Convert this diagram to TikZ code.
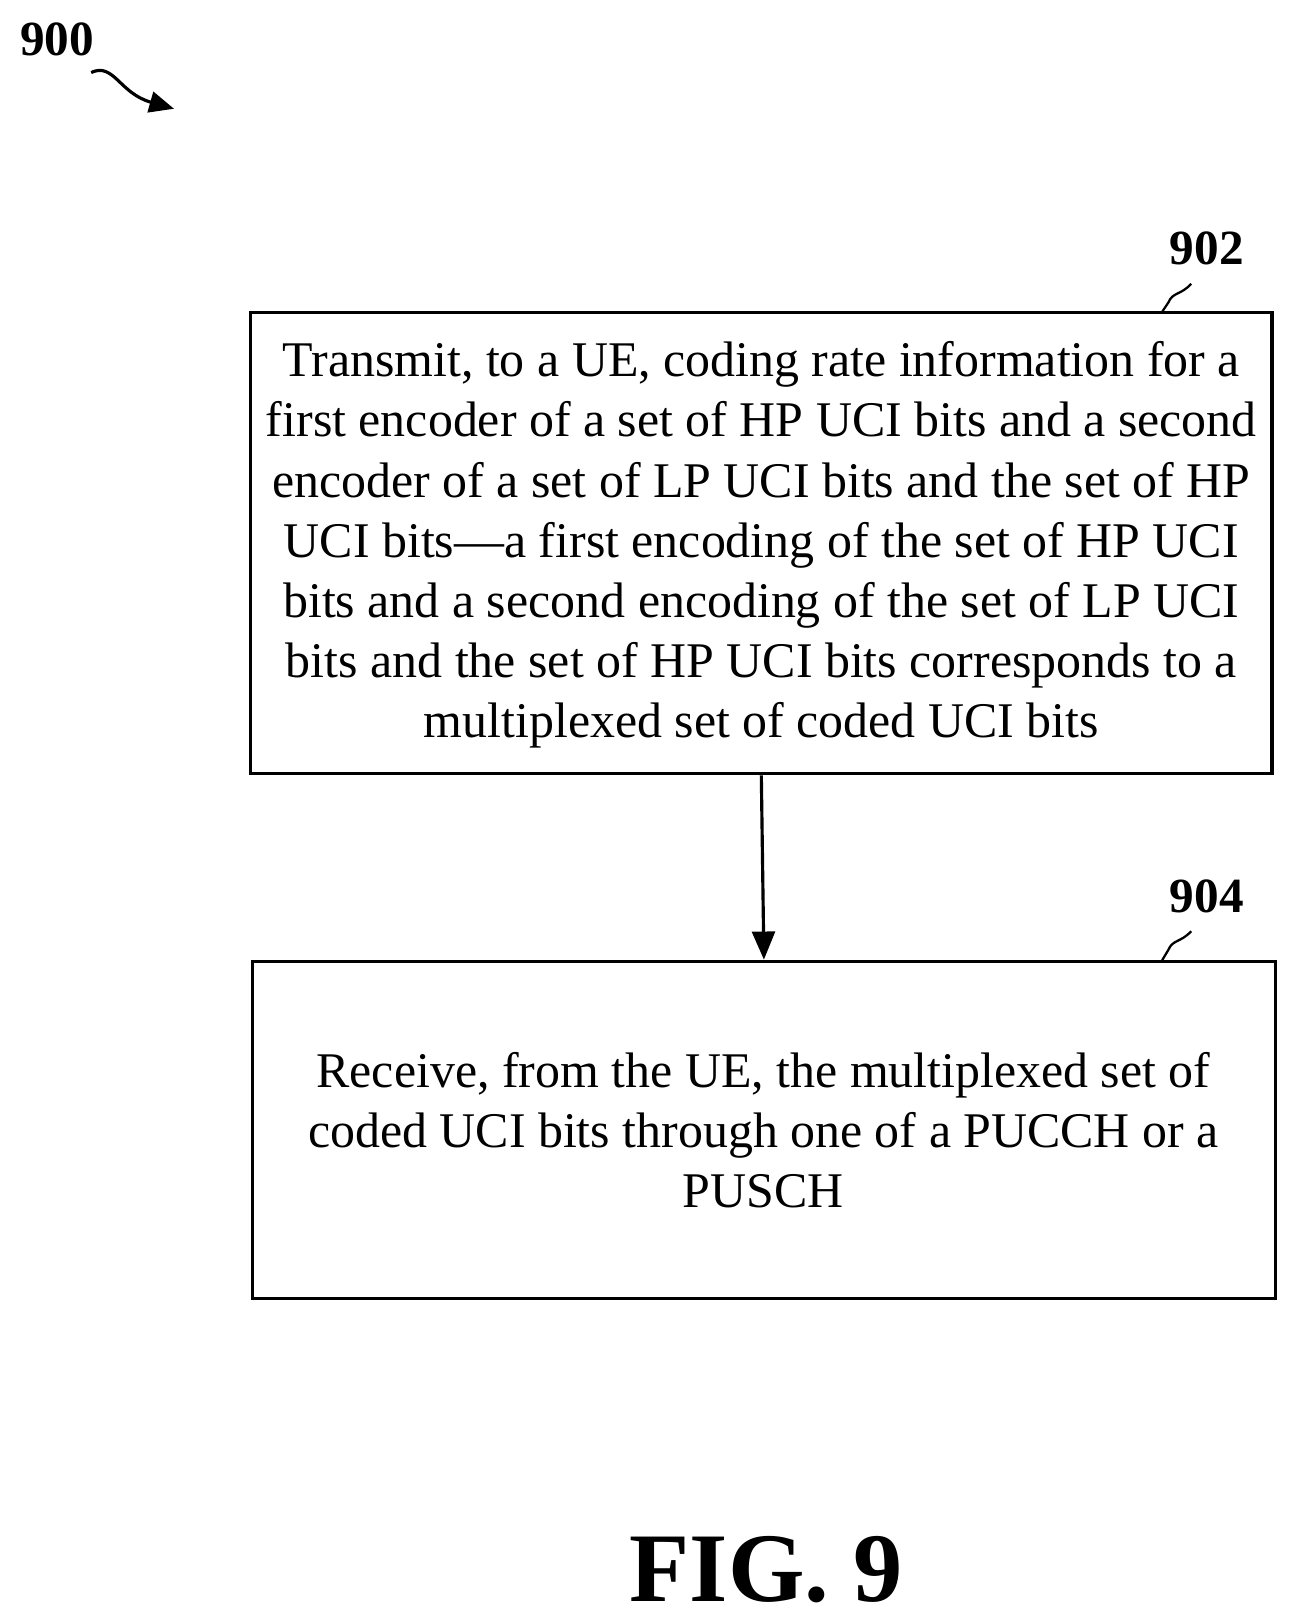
\documentclass[tikz,border=0pt]{standalone}
\usepackage{fontspec}
\setmainfont{Liberation Serif}
\usetikzlibrary{arrows.meta}
\begin{document}
\begin{tikzpicture}[x=0.02072cm,y=-0.02072cm,
  box/.style={draw,line width=1.8pt,inner sep=0pt},
  txt/.style={align=center,font=\fontsize{28.4}{34.2}\selectfont},
  lbl/.style={font=\bfseries\fontsize{28}{32}\selectfont},
  arr/.style={line width=1.8pt,-{Triangle[length=16pt,width=13pt]}}]
\useasboundingbox (0,0) rectangle (1250,1564);
\node[box,minimum width=986*0.02072cm,minimum height=445*0.02072cm] (b1) at (735,524.5) {};
\node[txt] (t1) at (735,526) {Transmit, to a UE, coding rate information for a\\first encoder of a set of HP UCI bits and a second\\encoder of a set of LP UCI bits and the set of HP\\UCI bits---a first encoding of the set of HP UCI\\bits and a second encoding of the set of LP UCI\\bits and the set of HP UCI bits corresponds to a\\multiplexed set of coded UCI bits};
\node[box,minimum width=987*0.02072cm,minimum height=326*0.02072cm] (b2) at (737.5,1091) {};
\node[txt] (t2) at (737,1091) {Receive, from the UE, the multiplexed set of\\coded UCI bits through one of a PUCCH or a\\PUSCH};
\draw[arr] (b1.south) -- (b2.north);
\node[lbl] (l902) at (1165,240) {902};
\node[lbl] (l904) at (1165,865) {904};
\node[lbl] (l900) at (55,38) {900};
\coordinate (c1) at (1122,301);
\coordinate (c2) at (1122,927);
\draw[line width=1.3pt] (1150,274) .. controls (1140,285) and (1132,282) .. (1128,292) -- (c1);
\draw[line width=1.3pt] (1150,899) .. controls (1140,910) and (1132,907) .. (1128,917) -- (c2);
\draw[line width=1.8pt,-{Triangle[length=14pt,width=12pt]}] (88,70) .. controls (110,60) and (115,90) .. (168,105);
\node[font=\bfseries\fontsize{56}{64}\selectfont] (fig) at (740,1515) {FIG. 9};
\end{tikzpicture}
\end{document}
